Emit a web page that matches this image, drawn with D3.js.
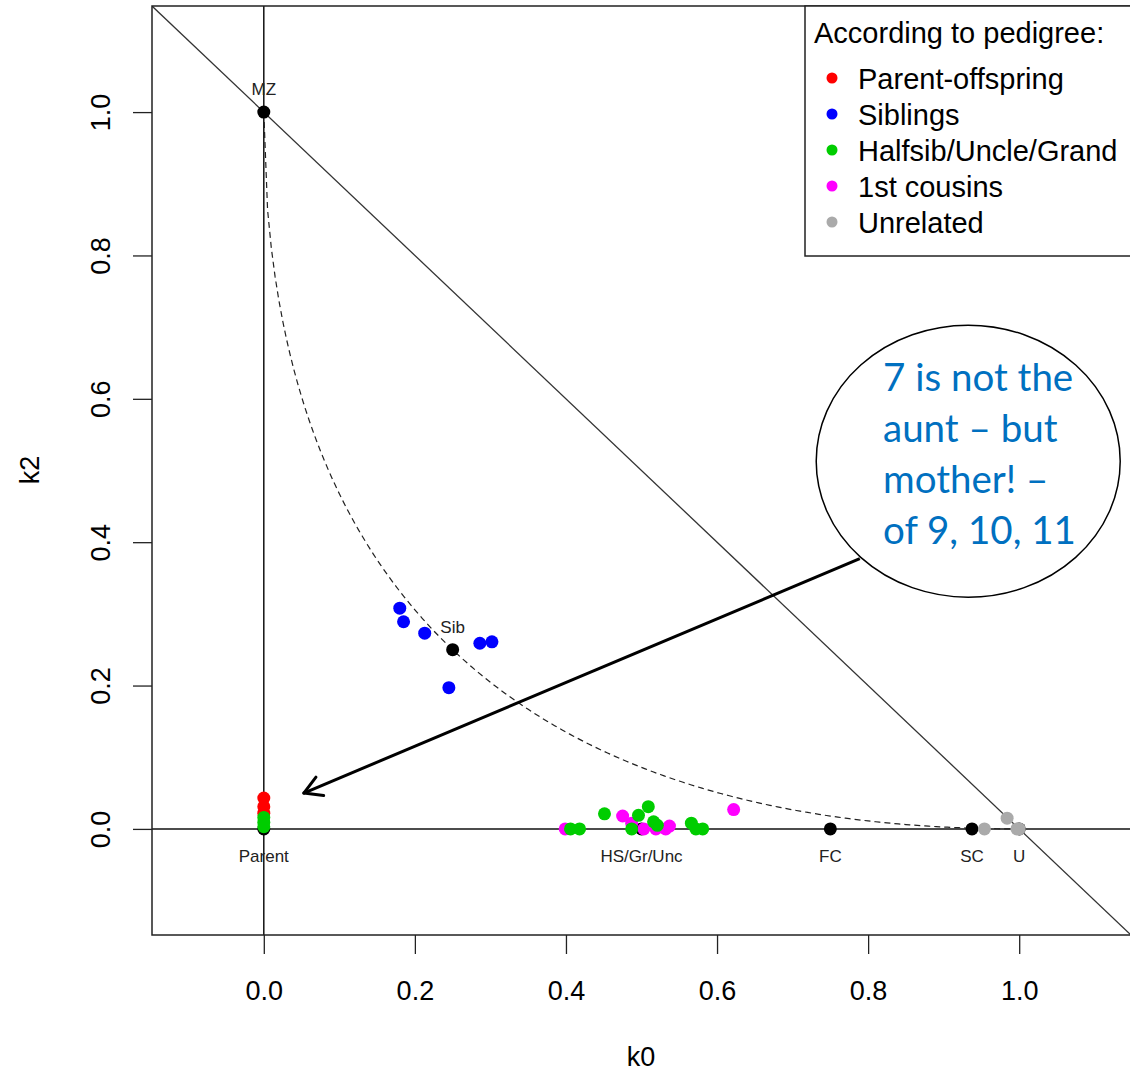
<!DOCTYPE html>
<meta charset="utf-8">
<style>
    body { margin: 0; background: #fff; }
    text { font-family: "Liberation Sans", Arial, sans-serif; }
    .lbl { font-size: 17px; fill: #222; }
</style>
<body>
<svg width="1130" height="1073"></svg>
<script src="https://d3js.org/d3.v7.min.js"></script>
<script>
    // observed IBD coefficients [k0, k2] by pedigree relation
    var parentOffspring = [[0, 0.043], [0, 0.031], [0, 0.022]];
    var siblings = [[0.180, 0.308], [0.185, 0.289], [0.213, 0.273], [0.286, 0.259], [0.302, 0.261], [0.245, 0.197]];
    var halfsibs = [[0, 0.016], [0, 0.009], [0, 0.003], [0.406, 0], [0.418, 0], [0.451, 0.021], [0.496, 0.019],
        [0.509, 0.031], [0.487, 0], [0.516, 0.010], [0.521, 0.005], [0.566, 0.008], [0.572, 0], [0.581, 0]];
    var cousins = [[0.399, 0], [0.475, 0.018], [0.487, 0.008], [0.503, 0], [0.519, 0], [0.532, 0], [0.537, 0.004], [0.622, 0.027]];
    var unrelated = [[0.954, 0], [0.984, 0.015], [0.997, 0], [1.0, 0]];

    // theoretical relationships
    var refNames = ["MZ", "Parent", "Sib", "HS/Gr/Unc", "FC", "SC", "U"];
    var refK0 = [0, 0, 0.25, 0.5, 0.75, 0.9375, 1];
    var refK2 = [1, 0, 0.25, 0, 0, 0, 0];
    var refAbove = [true, false, true, false, false, false, false];

    var legendLabels = ["Parent-offspring", "Siblings", "Halfsib/Uncle/Grand", "1st cousins", "Unrelated"];
    var legendColors = ["#ff0000", "#0000ff", "#00cd00", "#ff00ff", "#aaaaaa"];
    var ticks = [0, 0.2, 0.4, 0.6, 0.8, 1.0];

    var noteLines = ["7 is not the", "aunt \u2013 but", "mother! \u2013", "of 9, 10, 11"];

    var svg = d3.select("svg");
    var x = d3.scaleLinear().domain([-0.148, 1.148]).range([152, 1131]),
        y = d3.scaleLinear().domain([-0.148, 1.148]).range([935, 6]);

    svg.append("clipPath").attr("id", "clip")
        .append("rect").attr("x", 152).attr("y", 6).attr("width", 979).attr("height", 929);

    var plot = svg.append("g").attr("clip-path", "url(#clip)");

    // reference lines
    plot.append("line")
        .attr("x1", x(-0.148)).attr("y1", y(1.148))
        .attr("x2", x(1.148)).attr("y2", y(-0.148))
        .attr("stroke", "#333").attr("stroke-width", 1.3);
    plot.append("line")
        .attr("x1", x(0)).attr("x2", x(0)).attr("y1", 6).attr("y2", 935)
        .attr("stroke", "#111").attr("stroke-width", 1.5);
    plot.append("line")
        .attr("x1", 152).attr("x2", 1131).attr("y1", y(0)).attr("y2", y(0))
        .attr("stroke", "#111").attr("stroke-width", 1.5);

    // boundary of the feasible region: 4*k0*k2 = k1^2
    var curve = d3.range(0, 1.0001, 0.005).map(function (k0) {
        return [k0, Math.pow(1 - Math.sqrt(k0), 2)];
    });
    plot.append("path")
        .datum(curve)
        .attr("fill", "none").attr("stroke", "#222").attr("stroke-width", 1.2)
        .attr("stroke-dasharray", "6,4")
        .attr("d", d3.line().x(function (d) { return x(d[0]); }).y(function (d) { return y(d[1]); }));

    // theoretical points
    plot.selectAll(".ref").data(refNames).enter().append("circle")
        .attr("cx", function (d, i) { return x(refK0[i]); })
        .attr("cy", function (d, i) { return y(refK2[i]); })
        .attr("r", 6.5).attr("fill", "#000");

    plot.selectAll(".lbl").data(refNames).enter().append("text")
        .attr("class", "lbl")
        .attr("text-anchor", "middle")
        .attr("x", function (d, i) { return x(refK0[i]); })
        .attr("y", function (d, i) { return y(refK2[i]) + (refAbove[i] ? -17 : 33); })
        .text(function (d) { return d; });

    // observed points
    var groups = [
        { pts: parentOffspring, col: legendColors[0] },
        { pts: siblings, col: legendColors[1] },
        { pts: cousins, col: legendColors[3] },
        { pts: halfsibs, col: legendColors[2] },
        { pts: unrelated, col: legendColors[4] }
    ];
    groups.forEach(function (g) {
        plot.selectAll(null).data(g.pts).enter().append("circle")
            .attr("cx", function (d) { return x(d[0]); })
            .attr("cy", function (d) { return y(d[1]); })
            .attr("r", 6.5).attr("fill", g.col);
    });

    // box
    svg.append("rect").attr("x", 152).attr("y", 6).attr("width", 979).attr("height", 929)
        .attr("fill", "none").attr("stroke", "#222").attr("stroke-width", 1.5);

    // axes
    var xAxis = svg.append("g")
        .attr("transform", "translate(0,935)")
        .call(d3.axisBottom(x).tickValues(ticks).tickSize(19).tickPadding(27).tickFormat(d3.format(".1f")));
    xAxis.select(".domain").remove();
    xAxis.selectAll("text").style("font-size", "27px").style("font-family", "Liberation Sans, Arial, sans-serif").attr("fill", "#000");
    xAxis.selectAll("line").attr("stroke", "#222").attr("stroke-width", 1.3);

    var yAxis = svg.append("g")
        .attr("transform", "translate(152,0)")
        .call(d3.axisLeft(y).tickValues(ticks).tickSize(19).tickFormat(d3.format(".1f")));
    yAxis.select(".domain").remove();
    yAxis.selectAll("line").attr("stroke", "#222").attr("stroke-width", 1.3);
    yAxis.selectAll("text")
        .attr("x", 0).attr("dy", 0)
        .attr("text-anchor", "middle")
        .attr("transform", "translate(-42,0) rotate(-90)")
        .style("font-size", "27px").style("font-family", "Liberation Sans, Arial, sans-serif").attr("fill", "#000");

    svg.append("text").attr("x", 641).attr("y", 1066).attr("text-anchor", "middle")
        .style("font-size", "27px").text("k0");
    svg.append("text").attr("transform", "translate(39,470) rotate(-90)").attr("text-anchor", "middle")
        .style("font-size", "27px").text("k2");

    // legend
    var leg = svg.append("g");
    leg.append("rect").attr("x", 805).attr("y", 6).attr("width", 400).attr("height", 250)
        .attr("fill", "#fff").attr("stroke", "#222").attr("stroke-width", 1.5);
    leg.append("text").attr("x", 814).attr("y", 43).style("font-size", "29px").text("According to pedigree:");
    leg.selectAll(".li").data(legendLabels).enter().append("circle")
        .attr("cx", 832).attr("cy", function (d, i) { return 78 + 36 * i; })
        .attr("r", 5.5).attr("fill", function (d, i) { return legendColors[i]; });
    leg.selectAll(".lt").data(legendLabels).enter().append("text")
        .attr("x", 858).attr("y", function (d, i) { return 89 + 36 * i; })
        .style("font-size", "29px").text(function (d) { return d; });

    // callout annotation
    var tip = [0.053, 0.050], tail = [0.789, 0.377], centre = [0.9325, 0.513];
    var tx = x(tip[0]), ty = y(tip[1]), sx = x(tail[0]), sy = y(tail[1]);
    var note = svg.append("g");
    note.append("line").attr("x1", sx).attr("y1", sy).attr("x2", tx).attr("y2", ty)
        .attr("stroke", "#000").attr("stroke-width", 3);
    var ang = Math.atan2(sy - ty, sx - tx);
    [-0.52, 0.52].forEach(function (a) {
        note.append("line")
            .attr("x1", tx).attr("y1", ty)
            .attr("x2", tx + 20 * Math.cos(ang + a)).attr("y2", ty + 20 * Math.sin(ang + a))
            .attr("stroke", "#000").attr("stroke-width", 3).attr("stroke-linecap", "round");
    });
    note.append("ellipse").attr("cx", x(centre[0])).attr("cy", y(centre[1]))
        .attr("rx", 152).attr("ry", 136)
        .attr("fill", "#fff").attr("stroke", "#000").attr("stroke-width", 1.5);
    note.selectAll(".nl").data(noteLines).enter().append("text")
        .attr("x", 883).attr("y", function (d, i) { return 391 + 51 * i; })
        .style("font-family", "Lato, 'Open Sans', sans-serif").style("font-size", "38.5px")
        .attr("fill", "#0070c0")
        .text(function (d) { return d; });
</script>
</body>
